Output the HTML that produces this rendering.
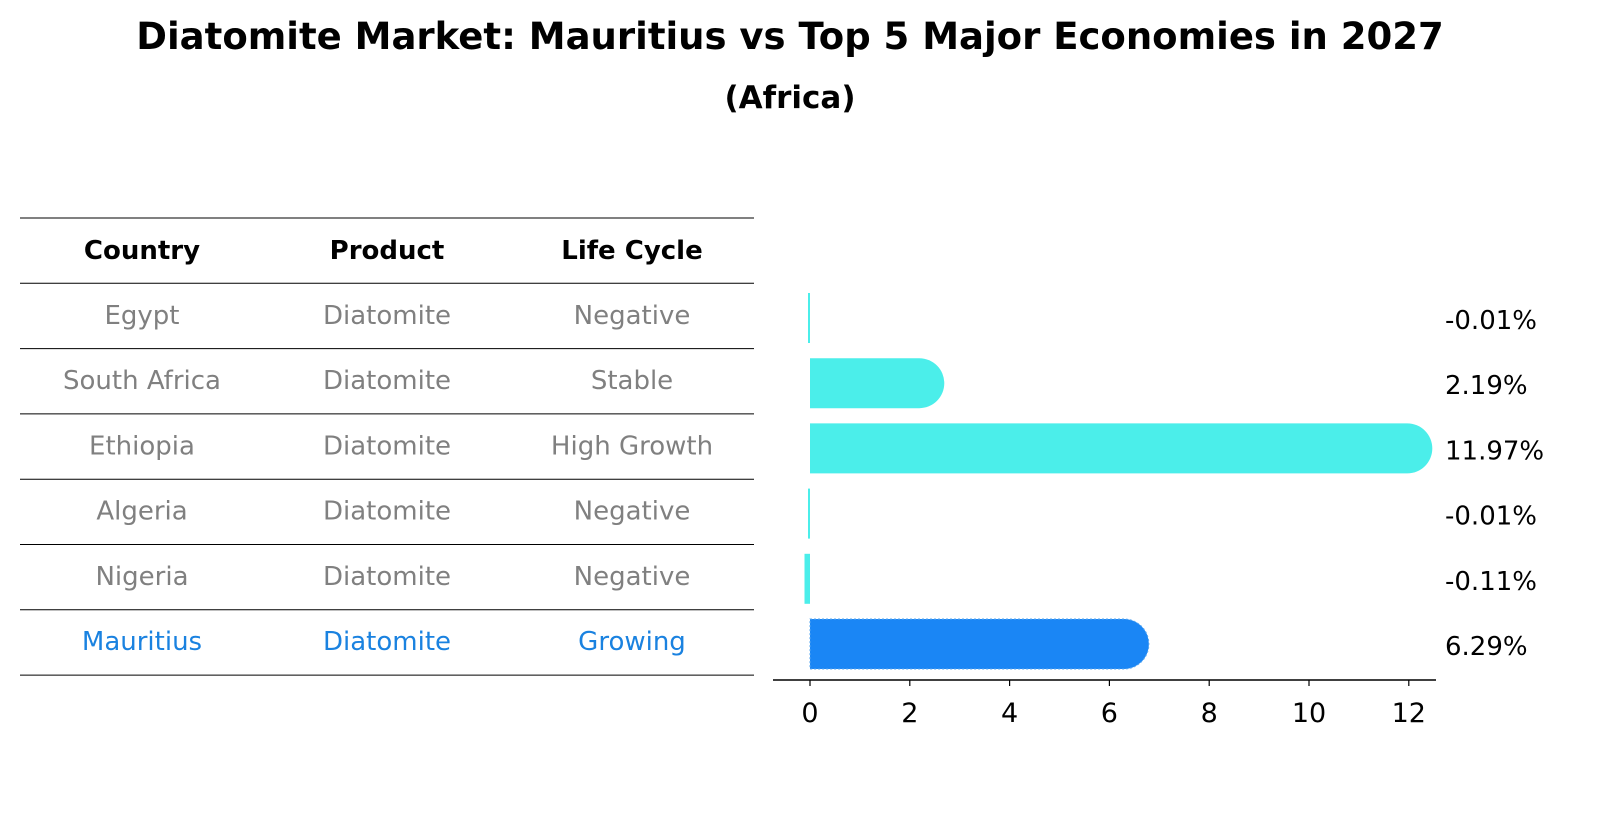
<!DOCTYPE html>
<html><head><meta charset="utf-8"><style>
body{margin:0;background:#fff;font-family:"Liberation Sans","DejaVu Sans",sans-serif}
</style></head><body>
<svg width="1604" height="823" xmlns="http://www.w3.org/2000/svg">
<text x="790" y="49" text-anchor="middle" font-size="37" font-weight="bold" font-family="DejaVu Sans, sans-serif">Diatomite Market: Mauritius vs Top 5 Major Economies in 2027</text>
<text x="790" y="108" text-anchor="middle" font-size="31" font-weight="bold" font-family="DejaVu Sans, sans-serif">(Africa)</text>
<g id="table" font-family="DejaVu Sans, sans-serif" font-size="26"></g>
<g id="bars"></g>
<g id="axis" font-family="DejaVu Sans, sans-serif" font-size="27"></g>
</svg>
<script>
const countries=["Egypt","South Africa","Ethiopia","Algeria","Nigeria","Mauritius"];
const products=["Diatomite","Diatomite","Diatomite","Diatomite","Diatomite","Diatomite"];
const lifecycles=["Negative","Stable","High Growth","Negative","Negative","Growing"];
const values=[-0.01,2.19,11.97,-0.01,-0.11,6.29];
const valueLabels=["-0.01%","2.19%","11.97%","-0.01%","-0.11%","6.29%"];
const ticks=[0,2,4,6,8,10,12];
const NS="http://www.w3.org/2000/svg";
function mk(t,a,p){const e=document.createElementNS(NS,t);for(const k in a)e.setAttribute(k,a[k]);p.appendChild(e);return e;}
const xs=v=>810+v*49.9;
const rowY=i=>318+i*65.2;
const tb=document.getElementById('table');
const cols=[142,387,632];
for(let i=0;i<8;i++){const l=mk('line',{x1:20,x2:754,y1:218+i*65.3,y2:218+i*65.3,stroke:'#000','stroke-width':1},tb);

}
["Country","Product","Life Cycle"].forEach((h,j)=>{const t=mk('text',{x:cols[j],y:259,'text-anchor':'middle','font-weight':'bold'},tb);t.textContent=h;

});
countries.forEach((c,i)=>{const col=i==5?'#1a82e0':'#808080';[c,products[i],lifecycles[i]].forEach((s,j)=>{const t=mk('text',{x:cols[j],y:rowY(i)+6,'text-anchor':'middle',fill:col},tb);t.textContent=s;

});});
const bg=document.getElementById('bars');
values.forEach((v,i)=>{const col=i==5?'#1a86f5':'#4beeea';const y=rowY(i)-25;
let b;
if(v>0.05){const x1=xs(v);b=mk('path',{d:`M810 ${y} H${x1} A25 25 0 0 1 ${x1} ${y+50} H810 Z`,fill:col},bg);
if(i==5){b.setAttribute('stroke','#5aa8f0');b.setAttribute('stroke-dasharray','2 2');}}
else{const w=Math.max(Math.abs(v)*49.9,2);b=mk('rect',{x:810-w,y:y,width:w,height:50,fill:col},bg);}


const t=mk('text',{x:1445,y:rowY(i)+11,'font-size':'26','font-family':'DejaVu Sans, sans-serif'},bg);t.textContent=valueLabels[i];

});
const ax=document.getElementById('axis');
const al=mk('line',{x1:773,x2:1436,y1:680,y2:680,stroke:'#000','stroke-width':1.5},ax);


ticks.forEach(tv=>{const l=mk('line',{x1:xs(tv),x2:xs(tv),y1:680,y2:686,stroke:'#000','stroke-width':1.2},ax);


const t=mk('text',{x:xs(tv),y:722,'text-anchor':'middle'},ax);t.textContent=tv;

});
</script>
</body></html>
